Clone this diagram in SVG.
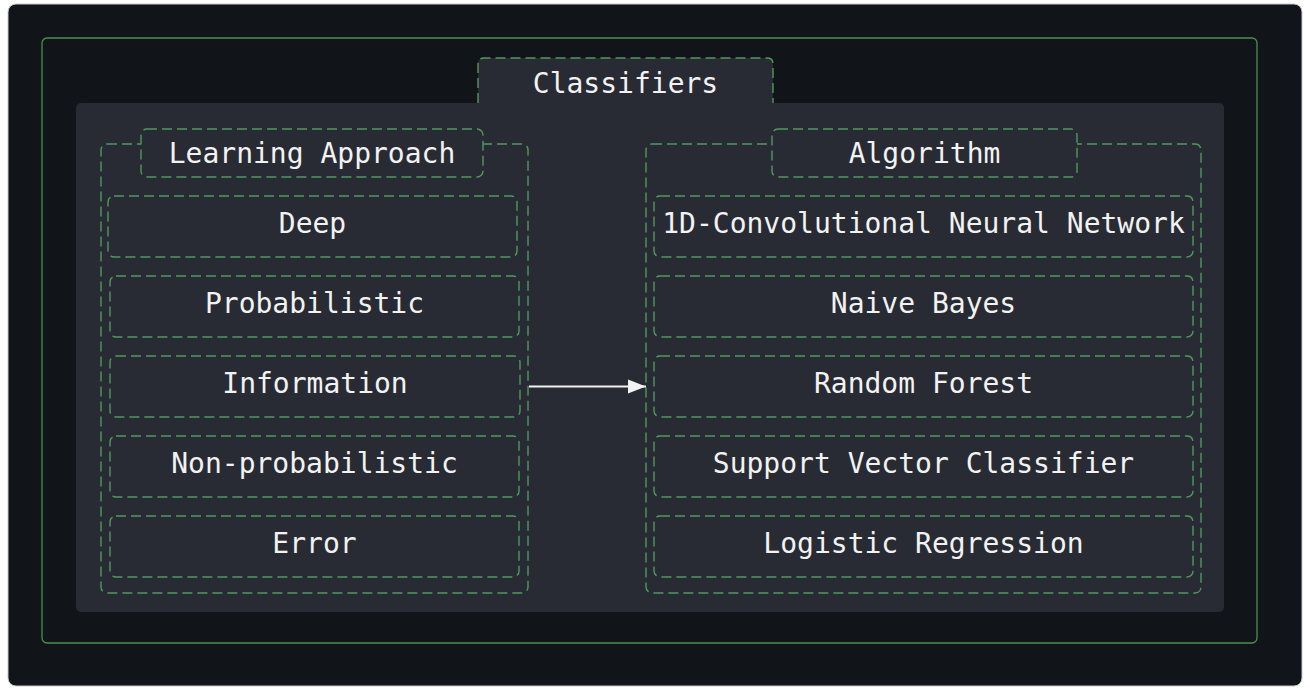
<svg xmlns="http://www.w3.org/2000/svg" width="1310" height="694" viewBox="0 0 1310 694">
<defs>
<style>
.t{font-family:"DejaVu Sans Mono","Liberation Mono",monospace;font-size:28px;fill:#f2f2f2;text-anchor:middle}
.d{fill:none;stroke:#4f9a5e;stroke-width:1.4;stroke-dasharray:10 5}
.b{fill:#282b33;stroke:#4f9a5e;stroke-width:1.4;stroke-dasharray:10 5}
</style>
<marker id="ah" markerWidth="20" markerHeight="16" refX="18" refY="8" orient="auto" markerUnits="userSpaceOnUse">
<path d="M0,1 L18,8 L0,15 Z" fill="#f2f2f2"/>
</marker>
</defs>
<rect x="0" y="0" width="1310" height="694" fill="#ffffff"/>
<rect x="8" y="4" width="1294" height="682" rx="8" fill="#111418" stroke="#c8c8c8" stroke-width="1"/>
<rect x="42" y="38" width="1215" height="605" rx="5" fill="none" stroke="#4a8f4e" stroke-width="1.3"/>
<g id="classifiers">
<path d="M478,103 V64 Q478,58 484,58 H767 Q773,58 773,64 V103 Z" fill="#282b33"/>
<rect x="76" y="103" width="1148" height="509" rx="5" fill="#282b33"/>
<path class="d" d="M478,103 V64 Q478,58 484,58 H767 Q773,58 773,64 V103"/>
<text class="t" x="625.5" y="93">Classifiers</text>
</g>
<g id="learning-approach">
<rect class="d" x="101" y="144" width="427" height="449" rx="6"/>
<rect class="b" x="141" y="129" width="342" height="48" rx="6"/>
<text class="t" x="312" y="163">Learning Approach</text>
</g>
<g id="algorithm">
<rect class="d" x="646" y="144" width="555" height="449" rx="6"/>
<rect class="b" x="772" y="129" width="305" height="48" rx="6"/>
<text class="t" x="924.5" y="163">Algorithm</text>
</g>
<g id="deep"><rect class="d" x="108" y="196" width="409" height="61" rx="6"/><text class="t" x="312.5" y="233">Deep</text></g>
<g id="probabilistic"><rect class="d" x="110" y="276" width="409" height="61" rx="6"/><text class="t" x="314.5" y="313">Probabilistic</text></g>
<g id="information"><rect class="d" x="110" y="356" width="410" height="61" rx="6"/><text class="t" x="315" y="393">Information</text></g>
<g id="non-probabilistic"><rect class="d" x="110" y="436" width="409" height="61" rx="6"/><text class="t" x="314.5" y="473">Non-probabilistic</text></g>
<g id="error"><rect class="d" x="110" y="516" width="409" height="61" rx="6"/><text class="t" x="314.5" y="553">Error</text></g>
<g id="cnn"><rect class="d" x="654" y="196" width="539" height="61" rx="6"/><text class="t" x="923.5" y="233">1D-Convolutional Neural Network</text></g>
<g id="naive-bayes"><rect class="d" x="654" y="276" width="539" height="61" rx="6"/><text class="t" x="923.5" y="313">Naive Bayes</text></g>
<g id="random-forest"><rect class="d" x="654" y="356" width="539" height="61" rx="6"/><text class="t" x="923.5" y="393">Random Forest</text></g>
<g id="svc"><rect class="d" x="654" y="436" width="539" height="61" rx="6"/><text class="t" x="923.5" y="473">Support Vector Classifier</text></g>
<g id="logistic-regression"><rect class="d" x="654" y="516" width="539" height="61" rx="6"/><text class="t" x="923.5" y="553">Logistic Regression</text></g>
<g id="connectors">
<line x1="529" y1="386.5" x2="646" y2="386.5" stroke="#f2f2f2" stroke-width="2" marker-end="url(#ah)"/>
</g>
</svg>
